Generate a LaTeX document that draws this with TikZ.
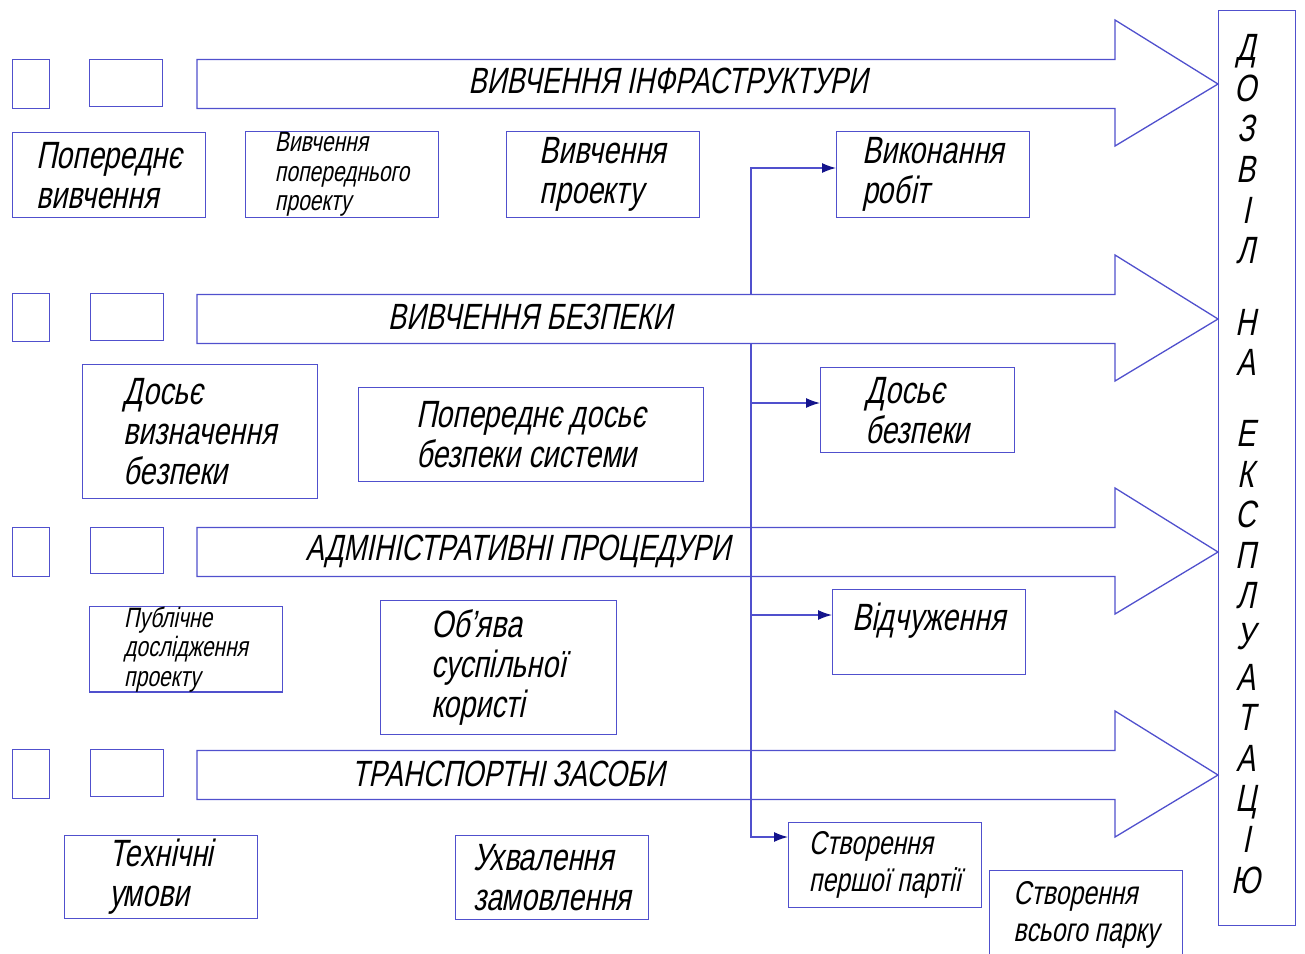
\documentclass[tikz,border=0pt]{standalone}
\usepackage{fontspec}
\setmainfont{Liberation Sans}[FakeSlant=0.2, FakeStretch=0.75]
\usetikzlibrary{arrows.meta}
\definecolor{ln}{RGB}{80,80,205}
\definecolor{ah}{RGB}{20,20,140}
\tikzset{
  boxnode/.style={draw=ln, line width=1.3pt, inner sep=0pt, align=left, anchor=north west},
  bigtxt/.style={font=\fontsize{38}{40}\selectfont},
  midtxt/.style={font=\fontsize{33}{37}\selectfont},
  smalltxt/.style={font=\fontsize{28}{29.5}\selectfont},
  arrowlabel/.style={font=\fontsize{36.5}{38}\selectfont, inner sep=0pt},
  bigarrow/.style={draw=ln, line width=1.3pt},
  conn/.style={draw=ln, line width=1.3pt},
  connarrow/.style={conn, -{Latex[length=14pt,width=10pt,color=ah]}},
}
\begin{document}
\begin{tikzpicture}[x=1pt,y=-1pt]
\useasboundingbox (0,0) rectangle (1305,953);
\clip (0,0) rectangle (1305,953);
% big arrows
\foreach \c in {84,319,552,775}{
  \draw[bigarrow] (197,\c-24.5) -- (1115,\c-24.5) -- (1115,\c-64) -- (1218,\c) -- (1115,\c+62) -- (1115,\c+24.5) -- (197,\c+24.5) -- cycle;
}
% small boxes at arrow tails
\node[boxnode, minimum width=37pt, minimum height=49pt] (s11) at (12,59) {};
\node[boxnode, minimum width=73pt, minimum height=47pt] (s12) at (89,59) {};
\node[boxnode, minimum width=37pt, minimum height=48pt] (s21) at (12,293) {};
\node[boxnode, minimum width=73pt, minimum height=47pt] (s22) at (90,293) {};
\node[boxnode, minimum width=37pt, minimum height=49pt] (s31) at (12,527) {};
\node[boxnode, minimum width=73pt, minimum height=46pt] (s32) at (90,527) {};
\node[boxnode, minimum width=37pt, minimum height=49pt] (s41) at (12,749) {};
\node[boxnode, minimum width=73pt, minimum height=47pt] (s42) at (90,749) {};
% arrow labels
\node[arrowlabel] (l1) at (668,81) {ВИВЧЕННЯ ІНФРАСТРУКТУРИ};
\node[arrowlabel] (l2) at (530,317) {ВИВЧЕННЯ БЕЗПЕКИ};
\node[arrowlabel] (l3) at (518,551) {АДМІНІСТРАТИВНІ ПРОЦЕДУРИ};
\node[arrowlabel] (l4) at (508,774) {ТРАНСПОРТНІ ЗАСОБИ};
% right column
\node[draw=ln, line width=1.3pt, minimum width=77pt, minimum height=915pt, anchor=north west, inner sep=0pt] (perm) at (1218,10) {};
\node[font=\fontsize{38}{40.6}\selectfont, align=center, inner sep=0pt] (permtxt) at (1246,464)
  {Д\\О\\З\\В\\І\\Л\\[31pt]Н\\А\\[30pt]Е\\К\\С\\П\\Л\\У\\А\\Т\\А\\Ц\\І\\Ю};
% row 1 boxes
\node[boxnode, bigtxt, minimum width=193pt, minimum height=85pt] (b11) at (12,132) {Попереднє\\вивчення};
\node[boxnode, smalltxt, minimum width=193pt, minimum height=86pt] (b12) at (245,131) {Вивчення\\попереднього\\проекту};
\node[boxnode, bigtxt, minimum width=193pt, minimum height=86pt] (b13) at (506,131) {Вивчення\\проекту};
\node[boxnode, bigtxt, minimum width=193pt, minimum height=86pt] (b14) at (836,131) {Виконання\\робіт};
% row 2 boxes
\node[boxnode, bigtxt, minimum width=235pt, minimum height=134pt] (b21) at (82,364) {Досьє\\визначення\\безпеки};
\node[boxnode, bigtxt, minimum width=345pt, minimum height=94pt] (b22) at (358,387) {Попереднє досьє\\безпеки системи};
\node[boxnode, bigtxt, minimum width=194pt, minimum height=85pt] (b23) at (820,367) {Досьє\\безпеки};
% row 3 boxes
\node[boxnode, smalltxt, minimum width=193pt, minimum height=84pt] (b31) at (89,606) {Публічне\\дослідження\\проекту};
\node[boxnode, bigtxt, minimum width=236pt, minimum height=134pt] (b32) at (380,600) {Об'ява\\суспільної\\користі};
\node[boxnode, bigtxt, minimum width=193pt, minimum height=85pt, text depth=30pt] (b33) at (832,589) {Відчуження};
% row 4 boxes
\node[boxnode, bigtxt, minimum width=193pt, minimum height=83pt] (b41) at (64,835) {Технічні\\умови};
\node[boxnode, bigtxt, minimum width=193pt, minimum height=84pt] (b42) at (455,835) {Ухвалення\\замовлення};
\node[boxnode, midtxt, minimum width=193pt, minimum height=85pt] (b43) at (788,822) {Створення\\першої партії};
\node[boxnode, midtxt, minimum width=193pt, minimum height=88pt] (b44) at (989,870) {Створення\\всього парку};
% trunk connectors
\coordinate (t1) at (751,168);
\coordinate (t2) at (751,294.5);
\coordinate (t3) at (751,343.5);
\coordinate (t4) at (751,837);
\coordinate (j1) at (751,403);
\coordinate (j2) at (751,615);
\draw[connarrow] (t2) -- (t1) -- (t1 -| b14.west);
\draw[connarrow] (t3) -- (t4) -- (t4 -| b43.west);
\draw[connarrow] (j1) -- (j1 -| b23.west);
\draw[connarrow] (j2) -- (j2 -| b33.west);
\end{tikzpicture}
\end{document}
